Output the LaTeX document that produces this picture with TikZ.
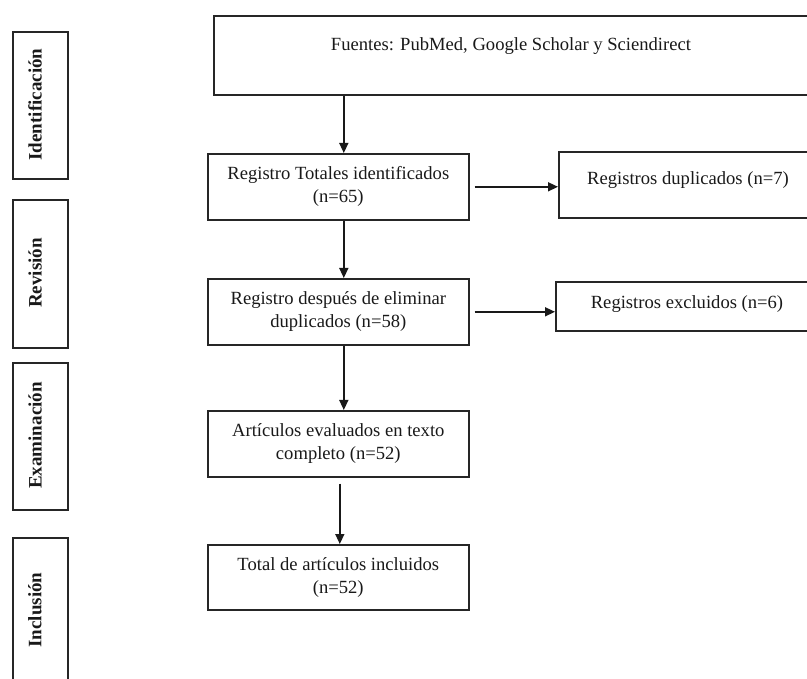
\documentclass[tikz,border=0pt]{standalone}
\usepackage{fontspec}
\setmainfont{Liberation Serif}
\usetikzlibrary{arrows.meta}
\begin{document}
\begin{tikzpicture}[x=1pt,y=-1pt,
  box/.style={draw=black!85, line width=1.6pt, inner sep=0pt, anchor=north west},
  txt/.style={font=\fontsize{18.6}{23}\selectfont, align=center, text=black!90},
  side/.style={font=\fontsize{19}{22}\selectfont\bfseries, rotate=90, text=black!90, inner sep=0pt},
  arr/.style={draw=black!90, line width=1.5pt, -{Triangle[length=10pt,width=9pt]}}]
\useasboundingbox (0,0) rectangle (807,679);

% side labels
\node[box, minimum width=55pt, minimum height=147pt] (s1) at (12,31) {};
\node[side] (s1t) at (35,104.5) {Identificación};
\node[box, minimum width=55pt, minimum height=148pt] (s2) at (12,199) {};
\node[side] (s2t) at (35,273) {Revisión};
\node[box, minimum width=55pt, minimum height=147pt] (s3) at (12,362) {};
\node[side] (s3t) at (35,435.5) {Examinación};
\node[box, minimum width=55pt, minimum height=153pt] (s4) at (12,537) {};
\node[side] (s4t) at (35,610) {Inclusión};

% main flow
\node[box, minimum width=600pt, minimum height=79pt] (src) at (213,15) {};
\node[txt] (srcT) at (511,46) {Fuentes: PubMed, Google Scholar y Sciendirect};

\node[box, txt, minimum width=261pt, minimum height=66pt] (tot) at (207,153) {Registro Totales identificados\\(n=65)};
\node[box, minimum width=255pt, minimum height=66pt] (dup) at (558,151) {};
\node[txt] (dupT) at (688,180) {Registros duplicados (n=7)};

\node[box, txt, minimum width=261pt, minimum height=66pt] (desp) at (207,278) {Registro después de eliminar\\duplicados (n=58)};
\node[box, minimum width=258pt, minimum height=49pt] (exc) at (555,281) {};
\node[txt] (excT) at (687,304) {Registros excluidos (n=6)};

\node[box, txt, minimum width=261pt, minimum height=66pt] (art) at (207,410) {Artículos evaluados en texto\\completo (n=52)};
\node[box, txt, minimum width=261pt, minimum height=65pt] (inc) at (207,544) {Total de artículos incluidos\\(n=52)};

% connectors
\draw[arr] ([xshift=5.5pt]tot.north |- src.south) -- ([xshift=5.5pt]tot.north);
\draw[arr] ([xshift=5.5pt]tot.south) -- ([xshift=5.5pt]desp.north);
\draw[arr] ([xshift=5.5pt]desp.south) -- ([xshift=5.5pt]art.north);
\draw[arr] ([xshift=1.5pt,yshift=-6pt]art.south) -- ([xshift=1.5pt]inc.north);
\draw[arr] ([xshift=5pt]tot.east) -- (tot.east -| dup.west);
\draw[arr] ([xshift=5pt]desp.east) -- (desp.east -| exc.west);
\end{tikzpicture}
\end{document}
